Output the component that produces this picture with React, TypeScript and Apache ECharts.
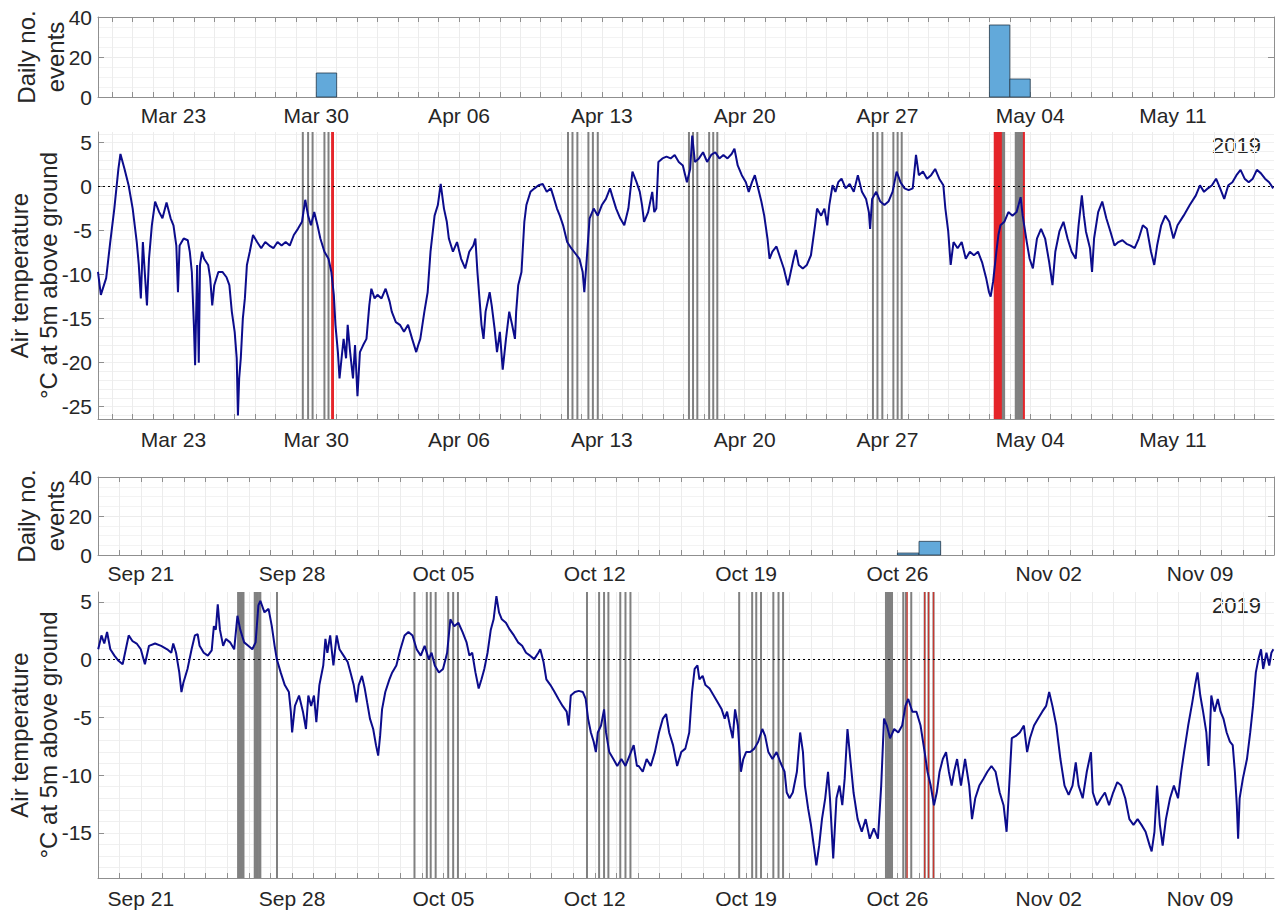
import React, { useEffect, useRef } from 'react';
import * as echarts from 'echarts';

// ---- axis labels (day offsets from Mar 23 / Sep 21, 2019) ----
const springWeekTicks = [0, 7, 14, 21, 28, 35, 42, 49];
const springWeekLabels = ['Mar 23', 'Mar 30', 'Apr 06', 'Apr 13', 'Apr 20', 'Apr 27', 'May 04', 'May 11'];
const autumnWeekTicks = [0, 7, 14, 21, 28, 35, 42, 49];
const autumnWeekLabels = ['Sep 21', 'Sep 28', 'Oct 05', 'Oct 12', 'Oct 19', 'Oct 26', 'Nov 02', 'Nov 09'];
const springRange = [-3.7, 53.95];
const autumnRange = [-1.98, 52.42];
const springTempTicks = [-25, -20, -15, -10, -5, 0, 5];
const autumnTempTicks = [-15, -10, -5, 0, 5];
const springTempRange = [-26.4, 6.2];
const autumnTempRange = [-18.9, 5.86];
const yearLabel = '2019';

// ---- daily number of events ----
const springBarDays = [7, 40, 41];
const springBarValues = [12, 36, 9];
const autumnBarDays = [35, 36];
const autumnBarValues = [1, 7];

// ---- event times (day offsets) ----
const springGray = [6.34, 6.6, 6.82, 7.4, 7.6, 19.34, 19.56, 19.8, 20.34, 20.56, 20.8, 25.27, 25.47, 25.68,
  26.26, 26.46, 26.66, 34.29, 34.51, 34.75, 35.29, 35.5, 35.7, 40.6, 40.66, 40.72,
  41.29, 41.35, 41.41, 41.47, 41.53, 41.59, 41.65];
const springRed = [7.78, 7.8, 7.82, 40.26, 40.31, 40.36, 40.41, 40.46, 40.51, 40.56, 41.69];
const autumnGray = [4.5, 4.56, 4.62, 4.68, 4.75, 5.27, 5.33, 5.4, 5.47, 5.53, 6.3, 12.66, 13.23, 13.41, 13.64,
  14.22, 14.45, 14.67, 20.64, 21.2, 21.43, 21.63, 22.18, 22.42, 22.65, 27.68, 28.28, 28.47, 28.69,
  29.26, 29.5, 29.71, 34.47, 34.54, 34.61, 34.68, 34.75, 35.27, 35.39, 35.64, 36.26, 36.44, 36.67];
const autumnRed = [35.45, 36.26, 36.44, 36.67];

// ---- air temperature (day offset, degC) ----
const springDays = [-3.7, -3.56, -3.3, -3.1, -2.9, -2.7, -2.6, -2.4, -2.2, -2.0, -1.8, -1.7, -1.6, -1.5, -1.4, -1.3, -1.2, -1.06, -0.9, -0.7, -0.54, -0.34, -0.14, 0.0, 0.14, 0.22, 0.3, 0.5, 0.7, 0.8, 0.9, 1.0, 1.06, 1.16, 1.24, 1.3, 1.4, 1.5, 1.7, 1.8, 1.9, 2.0, 2.2, 2.4, 2.6, 2.74, 2.86, 3.0, 3.1, 3.16, 3.22, 3.3, 3.4, 3.5, 3.6, 3.74, 3.9, 4.1, 4.3, 4.5, 4.7, 4.9, 5.1, 5.3, 5.5, 5.7, 5.9, 6.1, 6.3, 6.46, 6.6, 6.74, 6.9, 7.06, 7.2, 7.4, 7.6, 7.74, 7.86, 7.94, 8.06, 8.14, 8.24, 8.34, 8.46, 8.54, 8.66, 8.8, 8.9, 9.02, 9.14, 9.3, 9.46, 9.6, 9.7, 9.86, 10.0, 10.2, 10.4, 10.6, 10.7, 10.9, 11.1, 11.3, 11.5, 11.7, 11.9, 12.0, 12.1, 12.3, 12.46, 12.6, 12.8, 12.96, 13.1, 13.26, 13.4, 13.5, 13.7, 13.9, 14.1, 14.3, 14.5, 14.7, 14.8, 14.9, 15.1, 15.2, 15.3, 15.5, 15.6, 15.74, 15.86, 16.0, 16.14, 16.3, 16.46, 16.6, 16.74, 16.8, 16.9, 17.06, 17.2, 17.3, 17.5, 17.7, 17.9, 18.1, 18.3, 18.5, 18.66, 18.8, 18.94, 19.1, 19.3, 19.5, 19.7, 19.9, 20.06, 20.14, 20.26, 20.4, 20.6, 20.8, 21.0, 21.2, 21.4, 21.5, 21.7, 21.9, 22.1, 22.3, 22.5, 22.7, 22.86,
  22.97, 23.07, 23.27, 23.47, 23.57, 23.67, 23.77, 23.97, 24.17, 24.37, 24.57, 24.77, 24.97, 25.17, 25.33, 25.43, 25.56, 25.76, 25.96, 26.16, 26.36, 26.56, 26.76, 26.96, 27.16, 27.36, 27.5, 27.66, 27.86, 28.06, 28.2, 28.36, 28.5, 28.66, 28.82, 28.96, 29.12, 29.22, 29.36, 29.56, 29.76, 29.92, 30.12, 30.26, 30.4, 30.51, 30.65, 30.85, 31.05, 31.25, 31.45, 31.55, 31.75, 31.91, 32.05, 32.15, 32.31, 32.45, 32.59, 32.75, 32.95, 33.15, 33.35, 33.55, 33.75, 33.95, 34.09, 34.15, 34.25, 34.45, 34.65, 34.85, 35.05, 35.25, 35.45, 35.64, 35.84, 36.04, 36.24, 36.4, 36.54, 36.74, 36.94, 37.14, 37.34, 37.54, 37.74, 37.84, 37.98, 38.1, 38.24, 38.44, 38.64, 38.84, 39.04, 39.24, 39.44, 39.64, 39.84, 39.98, 40.06, 40.18, 40.34, 40.44, 40.54, 40.73, 40.93, 41.13, 41.33, 41.53, 41.63, 41.83, 41.97, 42.13, 42.33, 42.53, 42.73, 42.93, 43.09, 43.23, 43.43, 43.63, 43.83, 44.03, 44.23, 44.37, 44.53, 44.63, 44.73, 44.93, 45.03, 45.13, 45.33, 45.53, 45.73, 45.93, 46.13, 46.32, 46.52, 46.72, 46.92, 47.12, 47.32, 47.52, 47.72, 47.92, 48.08, 48.22, 48.42, 48.62, 48.82, 49.02, 49.22, 49.52, 49.82, 50.12, 50.32, 50.52, 50.71, 50.91, 51.11, 51.31, 51.51, 51.71, 51.91, 52.11, 52.31, 52.51, 52.71, 52.91, 53.11, 53.31, 53.51, 53.71, 53.91];
const springTemp = [-9.7, -12.3, -10.4, -6.3, -2.5, 2.0, 3.7, 2.0, 0.15, -2.5, -6.3, -8.9, -12.7, -6.3, -10.0, -13.5, -8.2, -4.4, -1.7, -2.9, -3.6, -1.8, -3.6, -4.4, -6.7, -12.0, -6.7, -5.9, -6.1, -7.4, -9.7, -15.7, -20.3, -8.9, -20.0, -8.9, -7.4, -8.2, -8.9, -10.4, -13.5, -11.2, -9.7, -9.7, -10.3, -11.2, -14.2, -16.5, -19.5, -26.0, -21.8, -19.5, -15.0, -12.7, -8.9, -7.4, -5.5, -6.3, -7.0, -6.3, -6.7, -7.0, -6.3, -6.7, -6.3, -6.7, -5.5, -4.8, -4.0, -1.5, -3.3, -4.4, -2.9, -4.4, -5.9, -7.4, -8.2, -9.7, -12.3, -15.7, -18.8, -21.8, -19.5, -17.3, -19.5, -15.7, -18.8, -21.8, -18.0, -23.8, -18.8, -18.0, -17.3, -13.5, -11.6, -12.7, -12.3, -12.7, -11.6, -13.1, -14.2, -15.4, -15.7, -16.5, -15.7, -17.3, -18.8, -18.0, -17.3, -14.2, -12.0, -7.4, -3.3, -2.1, 0.3, -2.5, -4.0, -5.9, -7.4, -6.3, -8.2, -9.3, -7.4, -6.7, -5.9, -9.7, -15.7, -17.3, -14.2, -12.0, -13.5, -16.1, -18.8, -16.5, -20.8, -17.3, -14.2, -15.7, -17.3, -14.2, -11.2, -9.7, -4.0, -2.1, -0.6, -0.2, 0.15, 0.3, -0.6, -0.2, -1.4, -2.5, -3.3, -4.4, -6.3, -7.0, -7.6, -8.2, -9.7, -12.0, -8.2, -3.6, -2.5, -3.3, -2.1, -1.4, -0.2, -1.0, -2.5, -3.6, -4.4, -2.5, 1.7, 0.5, -0.6,
  -2.1, -4.0, -2.9, -0.6, -2.9, -2.5, 2.8, 3.2, 3.4, 3.2, 3.6, 2.8, 2.4, 0.5, 2.0, 5.8, 2.8, 3.2, 3.9, 2.8, 3.6, 3.9, 3.2, 3.6, 3.2, 3.7, 4.3, 2.4, 1.3, 0.5, -0.6, 0.5, 1.3, -0.2, -1.7, -3.3, -5.9, -8.2, -7.4, -6.8, -8.2, -9.3, -11.2, -9.7, -8.2, -7.2, -8.9, -9.3, -8.9, -7.8, -4.4, -2.5, -3.3, -2.5, -4.4, -2.1, 0.15, -0.6, 0.5, 0.9, -0.2, 0.3, -0.6, 1.3, -0.6, -1.4, -2.9, -4.8, -1.4, -0.6, -1.7, -2.1, -1.7, -0.6, 1.7, 0.5, -0.2, -0.4, -0.2, 3.6, 1.3, 1.7, 0.9, 1.3, 2.0, 0.9, 0.15, -2.5, -5.1, -8.9, -6.3, -7.0, -6.3, -8.2, -7.4, -7.8, -7.4, -8.6, -10.4, -12.0, -12.5, -10.8, -7.4, -5.5, -4.4, -4.0, -2.9, -3.3, -2.9, -1.2, -3.3, -6.3, -8.2, -9.3, -5.9, -4.8, -5.9, -8.6, -11.2, -7.4, -5.1, -4.0, -5.9, -7.4, -8.2, -4.4, -1.0, -3.3, -5.1, -7.0, -9.7, -5.9, -2.9, -1.7, -3.6, -5.1, -6.7, -6.3, -6.1, -6.5, -6.7, -7.0, -5.9, -4.4, -4.8, -7.4, -8.9, -6.7, -4.4, -3.3, -4.0, -5.9, -4.4, -3.3, -2.1, -1.0, 0.15, -0.6, -0.2, 0.15, 0.9, -0.2, -1.4, 0.15, 0.5, 1.3, 1.9, 0.9, 0.5, 0.9, 1.9, 1.5, 0.9, 0.5, -0.2];

const autumnDays = [-1.97, -1.82, -1.69, -1.56, -1.41, -1.22, -1.03, -0.84, -0.66, -0.56, -0.38, -0.19, 0, 0.19, 0.38, 0.66, 0.94, 1.22, 1.41, 1.5, 1.63, 1.78, 1.88, 1.97, 2.16, 2.35, 2.5, 2.63, 2.72, 2.91, 3.1, 3.28, 3.38, 3.47, 3.56, 3.66, 3.81, 3.94, 4.13, 4.32, 4.47, 4.6, 4.78, 4.97, 5.16, 5.31, 5.44, 5.53, 5.72, 5.91, 6.06, 6.19, 6.29, 6.47, 6.66, 6.85, 6.94, 7.0, 7.13, 7.32, 7.5, 7.64, 7.75, 7.88, 8.01, 8.12, 8.26, 8.44, 8.54, 8.63, 8.76, 8.91, 9.06, 9.19, 9.38, 9.57, 9.7, 9.85, 9.98, 10.08, 10.23, 10.36, 10.47, 10.6, 10.75, 10.88, 10.98, 11.07, 11.16, 11.31, 11.5, 11.63, 11.82, 12.01, 12.2, 12.38, 12.57, 12.76, 12.95, 13.13, 13.32, 13.45, 13.6, 13.79, 13.98, 14.17, 14.32, 14.5, 14.69, 14.88, 15.07, 15.2, 15.33, 15.48, 15.63, 15.76, 15.89, 16.04, 16.19, 16.32, 16.45, 16.57, 16.7, 16.89, 17.07, 17.26, 17.45, 17.64, 17.82, 18.01, 18.2, 18.39, 18.48, 18.63, 18.76, 18.95, 19.14, 19.32, 19.51, 19.7, 19.79, 19.89, 20.08, 20.26, 20.45, 20.58, 20.69, 20.82, 20.95, 21.05, 21.14, 21.29, 21.43, 21.52, 21.67, 21.86, 22.04, 22.23, 22.42, 22.61, 22.8, 22.95,
  23.03, 23.22, 23.4, 23.59, 23.78, 23.97, 24.15, 24.3, 24.44, 24.62, 24.81, 25.0, 25.19, 25.37, 25.5, 25.62, 25.75, 25.84, 25.99, 26.12, 26.31, 26.5, 26.69, 26.87, 27.01, 27.12, 27.25, 27.38, 27.49, 27.62, 27.76, 27.87, 28.0, 28.19, 28.38, 28.56, 28.75, 28.88, 29.03, 29.22, 29.41, 29.59, 29.78, 29.88, 30.01, 30.16, 30.35, 30.5, 30.63, 30.72, 30.87, 31.0, 31.13, 31.25, 31.38, 31.51, 31.66, 31.79, 31.88, 32.03, 32.18, 32.32, 32.45, 32.56, 32.69, 32.82, 32.97, 33.16, 33.35, 33.53, 33.72, 33.91, 34.1, 34.25, 34.38, 34.51, 34.66, 34.85, 35.04, 35.22, 35.37, 35.5, 35.69, 35.88, 36.07, 36.26, 36.39, 36.54, 36.69, 36.82, 36.95, 37.1, 37.25, 37.38, 37.51, 37.62, 37.76, 37.94, 38.13, 38.32, 38.45, 38.6, 38.79, 38.98, 39.16, 39.35, 39.54, 39.73, 39.91, 40.05, 40.14, 40.29, 40.48, 40.66, 40.85, 41.0, 41.13, 41.32, 41.51, 41.7, 41.88, 42.02, 42.17, 42.35, 42.54, 42.73, 42.92, 43.1, 43.25, 43.38, 43.57, 43.76, 43.95, 44.04, 44.23, 44.42, 44.6, 44.79, 44.98, 45.17, 45.35, 45.54, 45.73, 45.92, 46.11, 46.29, 46.48, 46.67, 46.76, 46.89, 47.01, 47.14, 47.27, 47.42, 47.61, 47.79, 47.98, 48.13, 48.26, 48.45, 48.64, 48.77, 48.88, 49.01, 49.14, 49.29, 49.39, 49.52, 49.67, 49.82, 49.95, 50.08, 50.23, 50.38, 50.51, 50.61, 50.7, 50.76, 50.83, 50.98, 51.17, 51.32, 51.45, 51.58, 51.7, 51.82, 51.92, 52.07, 52.2, 52.3, 52.39];
const autumnTemp = [0.9, 2.1, 1.4, 2.4, 0.9, 0.35, -0.1, -0.4, 1.2, 2.1, 1.6, 1.4, 0.9, -0.4, 1.2, 1.4, 1.2, 0.9, 0.6, 1.4, 0.6, -1.1, -2.8, -2.0, -0.8, 0.9, 2.1, 2.2, 1.2, 0.6, 0.35, 0.8, 2.9, 2.6, 4.8, 2.6, 1.2, 1.8, 1.5, 0.9, 3.8, 2.6, 1.5, 1.2, 0.9, 1.5, 4.7, 5.1, 4.1, 4.4, 2.9, 1.2, 0.05, -1.1, -2.2, -2.8, -4.5, -6.3, -4.0, -3.1, -4.5, -6.0, -3.1, -4.0, -3.1, -5.4, -2.2, -0.5, 1.8, 0.6, 2.1, -0.5, 2.1, 0.9, 0.35, -0.2, -1.1, -2.2, -3.7, -2.2, -1.4, -2.5, -3.7, -5.1, -6.0, -7.4, -8.3, -6.6, -4.3, -2.8, -1.7, -1.1, -0.5, 0.9, 2.1, 2.4, 2.1, 0.9, 0.35, 1.2, 0.05, 0.6, -0.5, -1.1, -0.8, 0.6, 3.5, 2.9, 3.2, 2.4, 1.5, 0.35, 0.6, -1.1, -2.5, -1.7, -0.8, 0.6, 2.6, 3.5, 5.5, 4.1, 3.5, 3.2, 2.6, 2.1, 1.5, 1.2, 0.6, 0.35, 0.05, 0.6, 0.9, -0.2, -1.7, -2.2, -2.8, -3.4, -4.0, -4.5, -5.7, -3.1, -2.8, -2.7, -2.8, -3.4, -5.1, -6.3, -7.1, -8.0, -6.3, -5.7, -4.3, -6.3, -8.0, -8.6, -9.2, -8.6, -9.2, -8.3, -7.4, -9.2,
  -9.2, -9.7, -8.6, -9.2, -8.0, -6.3, -5.1, -4.7, -6.3, -7.4, -9.2, -8.0, -7.7, -6.3, -2.8, -0.8, -0.5, -1.7, -1.4, -2.2, -2.5, -3.1, -3.7, -4.3, -5.1, -4.5, -5.7, -6.8, -4.3, -5.7, -9.7, -8.6, -8.0, -8.0, -7.7, -7.1, -6.0, -6.6, -8.0, -8.6, -8.0, -8.9, -9.7, -11.5, -12.0, -11.5, -9.7, -6.3, -8.0, -10.9, -12.9, -14.3, -16.1, -17.8, -16.1, -13.8, -12.0, -9.7, -12.0, -17.2, -12.0, -10.9, -12.6, -10.3, -6.0, -8.6, -11.5, -13.8, -14.9, -13.8, -15.5, -14.6, -15.5, -10.9, -5.1, -5.7, -6.8, -6.0, -6.3, -5.7, -4.0, -3.4, -4.5, -4.5, -5.7, -8.0, -9.7, -10.9, -12.6, -11.5, -9.7, -8.6, -8.0, -9.7, -10.9, -9.7, -8.6, -10.9, -8.6, -10.9, -13.8, -12.0, -10.9, -10.3, -9.7, -9.2, -9.7, -11.5, -12.6, -14.9, -12.0, -6.8, -6.6, -6.3, -5.7, -8.0, -6.8, -5.7, -5.1, -4.5, -4.0, -2.8, -4.0, -5.7, -8.6, -10.9, -11.7, -10.9, -8.9, -10.9, -12.0, -9.7, -8.0, -11.5, -12.6, -12.0, -11.5, -12.6, -11.5, -10.6, -10.9, -12.0, -13.8, -14.3, -13.8, -14.3, -14.9, -16.1, -16.6, -14.9, -10.9, -14.3, -16.1, -13.8, -12.0, -10.9, -12.0, -9.7, -8.0, -5.7, -3.7, -2.2, -1.1, -3.1, -4.5, -6.3, -9.2, -3.1, -4.5, -3.4, -4.5, -5.1, -6.3, -7.1, -7.4, -9.7, -12.6, -15.5, -12.0, -10.3, -8.6, -6.3, -4.0, -1.1, 0.05, 0.9, -0.8, 0.6, -0.5, 0.6, 0.9];

const FONT = '"Liberation Sans", Arial, Helvetica, sans-serif';
const TXT = '#262626';
const AXIS = '#8f8f8f';
const GRIDC = '#ececec';

function dayTicks(range: number[]) {
  const out: number[] = [];
  for (let d = Math.ceil(range[0]); d <= Math.floor(range[1]); d++) out.push(d);
  return out;
}

function bottomX(gridIndex: number, range: number[], ticks: number[], labels: string[], margin: number) {
  return {
    type: 'value', gridIndex, position: 'bottom', min: range[0], max: range[1],
    axisLine: { show: true, onZero: false, lineStyle: { color: AXIS, width: 1 } },
    axisTick: { show: true, inside: true, length: 5, customValues: dayTicks(range), lineStyle: { color: AXIS } },
    axisLabel: {
      show: true, customValues: ticks, margin, color: TXT, fontSize: 21, fontFamily: FONT,
      formatter: (v: number) => { const i = ticks.indexOf(Math.round(v)); return i >= 0 ? labels[i] : ''; },
    },
    splitLine: { show: true, lineStyle: { color: GRIDC, width: 1 } },
  };
}
function topX(gridIndex: number, range: number[]) {
  return {
    type: 'value', gridIndex, position: 'top', min: range[0], max: range[1],
    axisLine: { show: true, onZero: false, lineStyle: { color: AXIS, width: 1 } },
    axisTick: { show: true, inside: true, length: 5, customValues: dayTicks(range), lineStyle: { color: AXIS } },
    axisLabel: { show: false }, splitLine: { show: false },
  };
}
function barY(gridIndex: number) {
  return {
    type: 'value', gridIndex, position: 'left', min: 0, max: 40, interval: 20,
    name: 'Daily no.\nevents', nameLocation: 'middle', nameGap: 28, nameRotate: 90, nameMoveOverlap: false,
    nameTextStyle: { fontSize: 24, lineHeight: 29, color: TXT, fontFamily: FONT },
    axisLine: { show: true, onZero: false, lineStyle: { color: AXIS } },
    axisTick: { show: true, inside: true, length: 6, lineStyle: { color: AXIS } },
    axisLabel: { show: true, color: TXT, fontSize: 21, fontFamily: FONT, margin: 6 },
    splitLine: { show: true, lineStyle: { color: GRIDC } },
    minorTick: { show: false, splitNumber: 4 },
    minorSplitLine: { show: true, lineStyle: { color: '#f3f3f3' } },
  };
}
function barYRight(gridIndex: number) {
  return {
    type: 'value', gridIndex, position: 'right', min: 0, max: 40, interval: 20,
    axisLine: { show: true, onZero: false, lineStyle: { color: AXIS } },
    axisTick: { show: true, inside: true, length: 6, lineStyle: { color: AXIS } },
    axisLabel: { show: false }, splitLine: { show: false },
  };
}
function tempY(gridIndex: number, range: number[], ticks: number[]) {
  return {
    type: 'value', gridIndex, position: 'left', min: range[0], max: range[1],
    name: 'Air temperature\n°C at 5m above ground', nameLocation: 'middle', nameGap: 35, nameRotate: 90, nameMoveOverlap: false,
    nameTextStyle: { fontSize: 24, lineHeight: 29, color: TXT, fontFamily: FONT },
    axisLine: { show: true, onZero: false, lineStyle: { color: AXIS } },
    axisTick: { show: true, inside: true, length: 6, customValues: ticks, lineStyle: { color: AXIS } },
    axisLabel: { show: true, customValues: ticks, color: TXT, fontSize: 21, fontFamily: FONT, margin: 6 },
    splitLine: { show: false },
    z: 4,
  };
}
function tempYGrid(gridIndex: number, range: number[]) {
  return {
    type: 'value', gridIndex, position: 'left', min: range[0], max: range[1],
    axisLine: { show: false, onZero: false },
    axisTick: { show: false, customValues: dayTicks(range) },
    axisLabel: { show: false },
    splitLine: { show: true, lineStyle: { color: '#f0f0f0' } },
  };
}

function barSeries(xi: number, yi: number, days: number[], values: number[]) {
  return {
    type: 'custom', xAxisIndex: xi, yAxisIndex: yi,
    data: days.map((d, i) => [d, values[i]]),
    encode: { x: 0, y: 1 },
    renderItem: (_p: any, api: any) => {
      const d = api.value(0);
      const v = api.value(1);
      const a = api.coord([d, 0]);
      const b = api.coord([d + 1, v]);
      return {
        type: 'rect',
        shape: { x: a[0], y: b[1], width: b[0] - a[0], height: a[1] - b[1] },
        style: { fill: '#62a9da', stroke: '#24384a', lineWidth: 0.8 },
      };
    },
    silent: true, z: 3,
  };
}
function eventSeries(xi: number, yi: number, days: number[], color: string, width: number, z: number) {
  return {
    type: 'custom', xAxisIndex: xi, yAxisIndex: yi,
    data: days.map((d) => [d, 0]),
    encode: { x: 0, y: 1 },
    renderItem: (params: any, api: any) => {
      const x = api.coord([api.value(0), 0])[0];
      const cs = params.coordSys;
      return {
        type: 'line',
        shape: { x1: x, y1: cs.y, x2: x, y2: cs.y + cs.height },
        style: { stroke: color, lineWidth: width },
      };
    },
    silent: true, z,
  };
}
function tempSeries(xi: number, yi: number, days: number[], temps: number[]) {
  return {
    type: 'line', xAxisIndex: xi, yAxisIndex: yi,
    data: days.map((d, i) => [d, temps[i]]),
    showSymbol: false, symbol: 'none', silent: true, z: 5,
    lineStyle: { color: '#0c0c8c', width: 2 },
    markLine: {
      silent: true, symbol: 'none', label: { show: false },
      lineStyle: { color: '#000', type: [2, 3], width: 1 },
      data: [{ yAxis: 0 }],
    },
  };
}

export default function App() {
  const ref = useRef<HTMLDivElement>(null);
  useEffect(() => {
    const chart = echarts.init(ref.current!, null, { renderer: 'svg' });
    const g = { left: 98, right: 3, containLabel: false, outerBoundsMode: 'none' };
    const option: any = {
      animation: false,
      backgroundColor: '#ffffff',
      textStyle: { fontFamily: FONT },
      grid: [
        { ...g, top: 17, height: 80 },
        { ...g, top: 132, height: 287 },
        { ...g, top: 477, height: 78 },
        { ...g, top: 592, height: 286 },
      ],
      xAxis: [
        bottomX(0, springRange, springWeekTicks, springWeekLabels, 8),
        topX(0, springRange),
        bottomX(1, springRange, springWeekTicks, springWeekLabels, 10),
        bottomX(2, autumnRange, autumnWeekTicks, autumnWeekLabels, 8),
        topX(2, autumnRange),
        bottomX(3, autumnRange, autumnWeekTicks, autumnWeekLabels, 10),
      ],
      yAxis: [
        barY(0),
        barYRight(0),
        tempY(1, springTempRange, springTempTicks),
        tempYGrid(1, springTempRange),
        barY(2),
        barYRight(2),
        tempY(3, autumnTempRange, autumnTempTicks),
        tempYGrid(3, autumnTempRange),
      ],
      graphic: [
        { type: 'text', right: 16, top: 134, style: { text: yearLabel, fontSize: 22, fill: TXT, fontFamily: FONT } },
        { type: 'text', right: 16, top: 594, style: { text: yearLabel, fontSize: 22, fill: TXT, fontFamily: FONT } },
      ],
      series: [
        barSeries(0, 0, springBarDays, springBarValues),
        eventSeries(2, 2, springGray, '#808080', 2, 1),
        eventSeries(2, 2, springRed, '#e5252a', 2, 2),
        tempSeries(2, 2, springDays, springTemp),
        barSeries(3, 4, autumnBarDays, autumnBarValues),
        eventSeries(5, 6, autumnGray, '#808080', 2, 1),
        eventSeries(5, 6, autumnRed, '#c8372f', 1.3, 2),
        tempSeries(5, 6, autumnDays, autumnTemp),
      ],
    };
    chart.setOption(option);
    return () => chart.dispose();
  }, []);
  return (
    <div
      ref={ref}
      style={{ position: 'absolute', left: 0, top: 0, width: 1277, height: 912, background: '#fff' }}
    />
  );
}
